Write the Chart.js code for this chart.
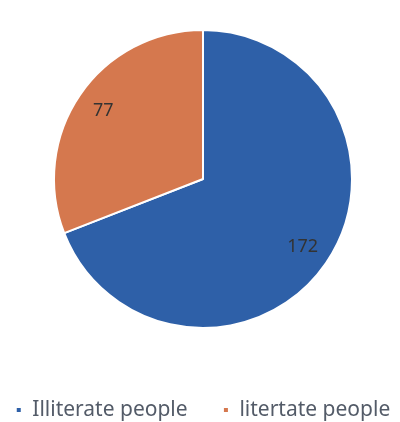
<!DOCTYPE html>
<html>
<head>
<meta charset="utf-8">
<script src="https://cdn.jsdelivr.net/npm/chart.js@4"></script>
<style>
  html, body { margin: 0; padding: 0; background: #fff; }
  #wrap { width: 400px; height: 422px; }
</style>
</head>
<body>
<div id="wrap"><canvas id="myChart" width="400" height="422"></canvas></div>
<script>
var labels = ['Illiterate people', 'litertate people']
var values = [172, 77]
var colors = ['#2E60A8', '#D5784E']

// draws the numbers on the slices (no datalabels plugin here)
var sliceLabels = {
    id: 'sliceLabels',
    afterDatasetsDraw: function (chart) {
        var ctx = chart.ctx
        var meta = chart.getDatasetMeta(0)
        ctx.save()
        ctx.font = '18px "Noto Sans"'
        ctx.fillStyle = '#333'
        ctx.textAlign = 'center'
        ctx.textBaseline = 'middle'
        meta.data.forEach(function (arc, i) {
            var p = arc.getProps(['x', 'y', 'startAngle', 'endAngle', 'outerRadius'])
            var mid = (p.startAngle + p.endAngle) / 2
            var r = p.outerRadius * 0.81
            ctx.fillText(values[i], p.x + Math.cos(mid) * r, p.y + Math.sin(mid) * r)
        })
        ctx.restore()
    }
}

var ctx = document.getElementById('myChart').getContext('2d')
var myChart = new Chart(ctx, {
    type: 'pie',
    data: {
        labels: labels,
        datasets: [{
            data: values,
            backgroundColor: colors,
            borderColor: '#fff',
            borderWidth: 2,
            radius: 149
        }]
    },
    options: {
        responsive: false,
        animation: false,
        layout: {
            padding: { top: 0, bottom: -8.5, left: 6, right: 0 }
        },
        plugins: {
            tooltip: { enabled: false },
            legend: {
                position: 'bottom',
                // empty title only used as a spacer above the items
                title: {
                    display: true,
                    text: '',
                    font: { size: 10, lineHeight: 1 },
                    padding: { top: 23.5, bottom: 0 }
                },
                labels: {
                    boxWidth: 6,
                    boxHeight: 6,
                    padding: 8,
                    color: '#535b68',
                    font: { family: 'Noto Sans', size: 21 },
                    generateLabels: function (chart) {
                        var items = Chart.controllers.pie.overrides.plugins.legend.labels.generateLabels(chart)
                        // wider gap between the two entries
                        items[0].text += '     '
                        return items
                    }
                }
            }
        }
    },
    plugins: [sliceLabels]
})
</script>
</body>
</html>
